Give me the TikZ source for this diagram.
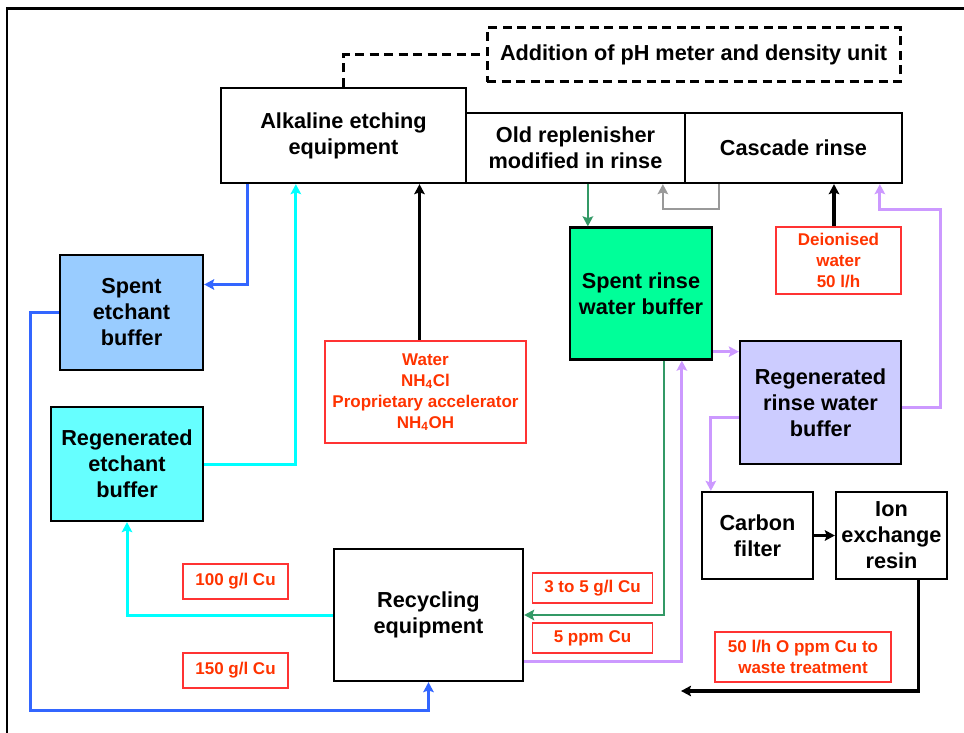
\documentclass[tikz,border=0pt]{standalone}
\usepackage{fontspec}
\setmainfont{Liberation Sans}
\usetikzlibrary{arrows.meta,calc}
\definecolor{cbl}{HTML}{3366FF}
\definecolor{ccy}{HTML}{00FFFF}
\definecolor{cgr}{HTML}{339966}
\definecolor{cgy}{HTML}{999999}
\definecolor{clv}{HTML}{CC99FF}
\definecolor{fseb}{HTML}{99CCFF}
\definecolor{freb}{HTML}{66FFFF}
\definecolor{fsrb}{HTML}{00FF99}
\definecolor{frrb}{HTML}{CCCCFF}
\definecolor{redt}{HTML}{FF3300}
\definecolor{redb}{HTML}{FF3333}
\newcommand\bigf{\fontsize{21.7}{26}\selectfont\bfseries}
\newcommand\smlf{\fontsize{17}{21}\selectfont\bfseries}
\begin{document}
\begin{tikzpicture}[x=1pt,y=-1pt,
  box/.style={draw=black, line width=2.3pt, inner sep=0pt, align=center, font=\bigf, text=black},
  lab/.style={draw=redb, line width=1.7pt, inner sep=0pt, align=center, font=\smlf, text=redt},
  conn/.style={line width=3pt, -{Stealth[length=10pt,width=10.5pt,inset=1.8pt]}},
  cblue/.style={conn, cbl},
  ccyan/.style={conn, ccy},
  cgreen/.style={conn, cgr, line width=2.6pt},
  cgray/.style={conn, cgy, line width=2.6pt},
  clav/.style={conn, clv},
  cblack/.style={conn, black, line width=3.2pt},
  dashbox/.style={draw=black, line width=3pt, dash pattern=on 9pt off 5.5pt}
]
\useasboundingbox (0,0) rectangle (964,733);
% frame
\draw[line width=2.4pt] (7,733) -- (7,8.5) -- (964,8.5);

% nodes
\node[box, dashbox, minimum width=413, minimum height=54] (add) at (693.5,55) {Addition of pH meter and density unit};
\node[box, minimum width=245, minimum height=95] (alk) at (343.5,135.5) {Alkaline etching\\equipment};
\node[box, minimum width=219, minimum height=70] (old) at (575.5,148) {Old replenisher\\modified in rinse};
\node[box, minimum width=217, minimum height=70] (cas) at (793.5,148) {Cascade rinse};
\node[box, fill=fseb, minimum width=143, minimum height=115] (seb) at (131.5,312.5) {Spent\\etchant\\buffer};
\node[box, fill=freb, minimum width=152, minimum height=114] (reb) at (127,464) {Regenerated\\etchant\\buffer};
\node[lab, minimum width=201, minimum height=102] (water) at (425.5,392) {Water\\NH\textsubscript{4}Cl\\Proprietary accelerator\\NH\textsubscript{4}OH};
\node[box, fill=fsrb, minimum width=142, minimum height=132] (srb) at (641,293.5) {Spent rinse\\water buffer};
\node[lab, minimum width=125, minimum height=67] (deion) at (838.5,260.5) {Deionised\\water\\50 l/h};
\node[box, fill=frrb, minimum width=161, minimum height=123] (rrb) at (820.5,402.5) {Regenerated\\rinse water\\buffer};
\node[box, minimum width=111, minimum height=87] (carbon) at (757.5,535.5) {Carbon\\filter};
\node[box, minimum width=111, minimum height=87] (ion) at (891.5,535.5) {Ion\\exchange\\resin};
\node[box, minimum width=189, minimum height=132] (rec) at (428.5,615) {Recycling\\equipment};
\node[lab, minimum width=105, minimum height=35] (l100) at (235.5,581.5) {100 g/l Cu};
\node[lab, minimum width=105, minimum height=35] (l150) at (235.5,670.5) {150 g/l Cu};
\node[lab, minimum width=120, minimum height=30] (l35) at (592.5,588) {3 to 5 g/l Cu};
\node[lab, minimum width=120, minimum height=30] (l5) at (592.5,638) {5 ppm Cu};
\node[lab, minimum width=176, minimum height=50] (l50) at (803,657) {50 l/h O ppm Cu to\\waste treatment};

% dashed link
\draw[dashbox] (alk.north) |- (add.west);

% blue
\coordinate (b1) at ($(alk.south west)+(28,0)$);
\draw[cblue] (b1) |- ($(seb.east)+(0,-28)$);
\draw[cblue] (seb.west) -- ++(-28,0) |- ($(rec.south)+(0,28)$) -- (rec.south);

% cyan
\coordinate (c1) at ($(alk.south west)+(76,0)$);
\draw[ccyan] (reb.east) -| (c1);
\draw[ccyan] (rec.west) -| (reb.south);

% black feeds
\coordinate (k1) at ($(water.north)+(-6,0)$);
\draw[cblack] (k1) -- (k1 |- alk.south);
\coordinate (k2) at ($(deion.north)+(-4.5,0)$);
\draw[cblack] (k2) -- (k2 |- cas.south);

% green
\coordinate (g1) at ($(old.south west)+(123,0)$);
\draw[cgreen] (g1) -- (g1 |- srb.north);
\coordinate (g2) at ($(srb.south west)+(95,0)$);
\draw[cgreen] (g2) |- (rec.east);

% gray
\coordinate (y1) at ($(cas.south west)+(35,0)$);
\coordinate (y2) at ($(old.south west)+(198,0)$);
\draw[cgray] (y1) -- ($(y1)+(0,25)$) -| (y2);

% lavender
\coordinate (v1) at ($(cas.south west)+(196,0)$);
\draw[clav] ($(rrb.east)+(0,4.5)$) -- ++(38,0) |- ($(v1)+(0,25)$) -- (v1);
\coordinate (v2) at ($(srb.south east)+(0,-9)$);
\draw[clav] (v2) -- (v2 -| rrb.west);
\coordinate (v3) at ($(rec.east)+(0,46)$);
\coordinate (v4) at ($(srb.south west)+(113,0)$);
\draw[clav] (v3) -| (v4);
\coordinate (v5) at ($(rrb.west)+(0,14.5)$);
\coordinate (v6) at ($(carbon.north west)+(10,0)$);
\draw[clav] (v5) -| (v6);

% carbon -> ion -> waste
\draw[cblack] (carbon.east) -- (ion.west);
\coordinate (wout) at (681,691);
\draw[cblack] ($(ion.south west)+(84,0)$) |- (wout);
\end{tikzpicture}
\end{document}
